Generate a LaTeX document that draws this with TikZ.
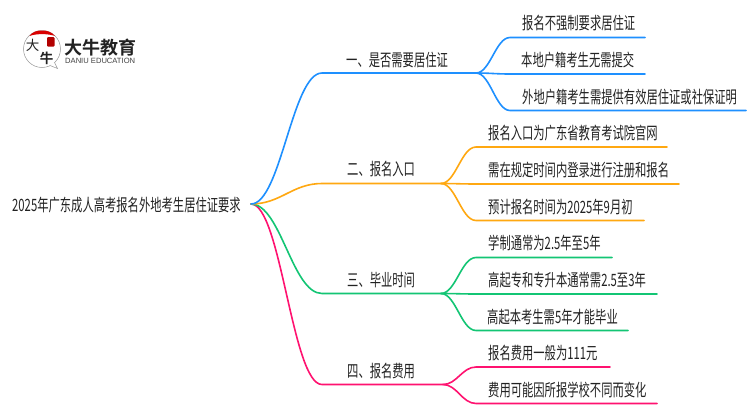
\documentclass[tikz,border=0pt]{standalone}
\usepackage{fontspec}
\setmainfont{Liberation Sans}
\newfontfamily\cjk{Noto Sans CJK SC}
\newfontfamily\cjkb{Noto Sans CJK SC Bold}
\newcommand{\tx}[1]{\scalebox{0.665}[1]{\fontsize{17}{18}\cjk #1}}
\definecolor{cblue}{HTML}{1E90FF}
\definecolor{corange}{HTML}{FFA811}
\definecolor{cgreen}{HTML}{13C574}
\definecolor{cpink}{HTML}{FF1270}
\definecolor{ink}{HTML}{222222}
\tikzset{
  lab/.style={inner sep=0pt,text=ink,anchor=west},
  wire/.style={line width=1.6pt,line cap=round},
  curve/.style={wire,to path={.. controls ($(\tikztostart)!0.42!(\tikztotarget|-\tikztostart)$) and ($(\tikztotarget)!0.42!(\tikztostart|-\tikztotarget)$) .. (\tikztotarget)}}
}
\usetikzlibrary{calc}
\begin{document}
\begin{tikzpicture}[x=1pt,y=-1pt]
\useasboundingbox (0,0) rectangle (750,410);
\fill[white] (0,0) rectangle (750,410);
% logo
\draw[black!40,line width=0.5pt,fill=white] (42,49) circle (18.5);
\draw[black!40,line width=0.5pt,fill=white] (50,65.5) -- (57.5,68.5) -- (54.5,62.5);
\fill[white] (49,63.5) -- (55.5,66.8) -- (53,61) -- cycle;
\fill[red!85!black] (29.5,36) .. controls (33,31.5) and (37,30.5) .. (42,30.5) .. controls (47,30.5) and (51,31.5) .. (55,36) .. controls (48,33.5) and (36,33.5) .. cycle;
\fill[red!70!black,rounded corners=1pt] (47,37) rectangle (54.5,46.5);
\node[inner sep=0pt,text=ink] (logoa) at (32.5,45.5) {\fontsize{13.5}{14}\cjk 大};
\node[inner sep=0pt,text=ink] (logob) at (46.5,58.5) {\fontsize{13.5}{14}\cjkb 牛};
\node[inner sep=0pt,text=ink,anchor=west] (logoc) at (64,47.5) {\fontsize{18}{18}\cjkb 大牛教育};
\node[inner sep=0pt,text=black!75,anchor=west] (logod) at (65,60.7) {\fontsize{7.6}{8}\selectfont DANIU EDUCATION};
% coordinates
\coordinate (root) at (251,204);
\coordinate (b1) at (322,73);  \coordinate (h1) at (476,73);
\coordinate (b2) at (322,183.5); \coordinate (h2) at (441,183.5);
\coordinate (b3) at (322,293.5); \coordinate (h3) at (441,293.5);
\coordinate (b4) at (322,384.5); \coordinate (h4) at (443,384.5);
\coordinate (l11) at (510,37.5); \coordinate (e11) at (645,37.5);
\coordinate (l12) at (510,74);   \coordinate (e12) at (645,74);
\coordinate (l13) at (510,110.5);\coordinate (e13) at (746,110.5);
\coordinate (l21) at (476,147);  \coordinate (e21) at (667,147);
\coordinate (l22) at (476,184);  \coordinate (e22) at (679,184);
\coordinate (l23) at (476,220.5);\coordinate (e23) at (644,220.5);
\coordinate (l31) at (476,257.5);\coordinate (e31) at (612,257.5);
\coordinate (l32) at (476,294);  \coordinate (e32) at (657,294);
\coordinate (l33) at (476,330.5);\coordinate (e33) at (628,330.5);
\coordinate (l41) at (476,367);  \coordinate (e41) at (610,367);
\coordinate (l42) at (476,403.5);\coordinate (e42) at (657,403.5);
% connectors
\draw[curve,cpink] (root) to (b4) -- (h4);
\draw[curve,cpink] (h4) to (l41) -- (e41);
\draw[curve,cpink] (h4) to (l42) -- (e42);
\draw[curve,cgreen] (root) to (b3) -- (h3);
\draw[curve,cgreen] (h3) to (l31) -- (e31);
\draw[curve,cgreen] (h3) to (l32) -- (e32);
\draw[curve,cgreen] (h3) to (l33) -- (e33);
\draw[curve,corange] (root) to (b2) -- (h2);
\draw[curve,corange] (h2) to (l21) -- (e21);
\draw[curve,corange] (h2) to (l22) -- (e22);
\draw[curve,corange] (h2) to (l23) -- (e23);
\draw[curve,cblue] (root) to (b1) -- (h1);
\draw[curve,cblue] (h1) to (l11) -- (e11);
\draw[curve,cblue] (h1) to (l12) -- (e12);
\draw[curve,cblue] (h1) to (l13) -- (e13);
% texts
\node[lab] (troot) at (12,205) {\tx{2025年广东成人高考报名外地考生居住证要求}};
\node[lab] (t1) at (346,60) {\tx{一、是否需要居住证}};
\node[lab] (t2) at (347,169.5) {\tx{二、报名入口}};
\node[lab] (t3) at (347,280) {\tx{三、毕业时间}};
\node[lab] (t4) at (347,371) {\tx{四、报名费用}};
\node[lab] (t11) at (522,23.5) {\tx{报名不强制要求居住证}};
\node[lab] (t12) at (521,60.5) {\tx{本地户籍考生无需提交}};
\node[lab] (t13) at (522,97) {\tx{外地户籍考生需提供有效居住证或社保证明}};
\node[lab] (t21) at (488,133.5) {\tx{报名入口为广东省教育考试院官网}};
\node[lab] (t22) at (488,170.5) {\tx{需在规定时间内登录进行注册和报名}};
\node[lab] (t23) at (488,207) {\tx{预计报名时间为2025年9月初}};
\node[lab] (t31) at (488,243) {\tx{学制通常为2.5年至5年}};
\node[lab] (t32) at (488,280) {\tx{高起专和专升本通常需2.5至3年}};
\node[lab] (t33) at (487,317) {\tx{高起本考生需5年才能毕业}};
\node[lab] (t41) at (488,353) {\tx{报名费用一般为111元}};
\node[lab] (t42) at (488,390) {\tx{费用可能因所报学校不同而变化}};
\end{tikzpicture}
\end{document}
